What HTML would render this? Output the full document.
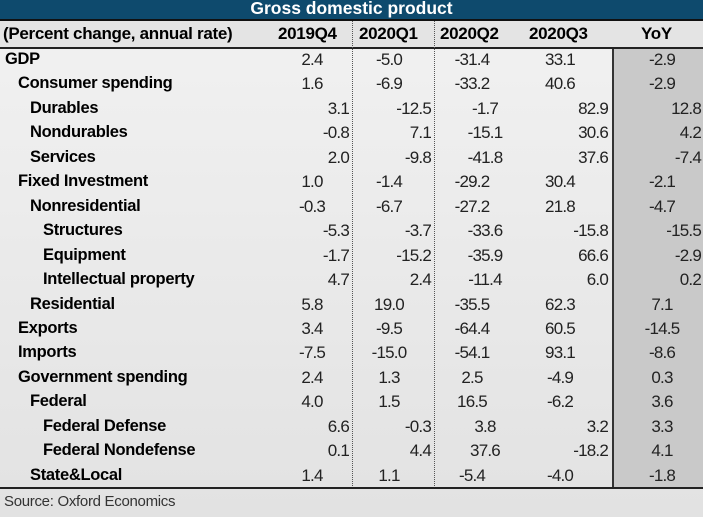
<!DOCTYPE html>
<html><head><meta charset="utf-8"><style>
body{margin:0;width:703px;height:517px;overflow:hidden;background:linear-gradient(#f2f2f2,#e2e2e2);font-family:"Liberation Sans",Arial,sans-serif;position:relative}
.abs{position:absolute;white-space:nowrap}
#title{left:0;top:0;width:703px;height:19px;background:#0e4a6d;color:#fff;font-weight:bold;font-size:17.5px;text-align:center;line-height:17px}
#hdr{left:0;top:19px;width:703px;height:26px;background:#e4e4e4;border-top:2px solid #111;border-bottom:2px solid #222}
.h{font-weight:bold;font-size:17px;top:24px;letter-spacing:-0.3px}
#yoy{left:612px;top:19px;width:91px;height:469px;background:#c9c9c9;border-left:2px solid #333}
.dot{top:21px;height:467px;border-left:1.5px dotted #555}
.lbl{font-weight:bold;font-size:16.5px;letter-spacing:-0.3px}
.v{font-size:17px;color:#222;letter-spacing:-0.8px}
#bot{left:0;top:487px;width:703px;border-top:2px solid #222}
#src{left:4px;top:493px;font-size:15px;color:#333;letter-spacing:-0.3px}
</style></head><body>
<div class="abs" id="yoy"></div>
<div class="abs" id="hdr"></div>
<div class="abs" id="title">Gross domestic product</div>
<div class="abs dot" style="left:352px"></div>
<div class="abs dot" style="left:434px"></div>
<div class="abs h" style="left:3px">(Percent change, annual rate)</div>
<div class="abs h" style="left:278px">2019Q4</div>
<div class="abs h" style="left:359px">2020Q1</div>
<div class="abs h" style="left:440px">2020Q2</div>
<div class="abs h" style="left:529px">2020Q3</div>
<div class="abs h" style="left:641px">YoY</div>
<div class="abs" id="bot"></div>
<div class="abs" id="src">Source: Oxford Economics</div>
<script>
const labels=["GDP","Consumer spending","Durables","Nondurables","Services","Fixed Investment","Nonresidential","Structures","Equipment","Intellectual property","Residential","Exports","Imports","Government spending","Federal","Federal Defense","Federal Nondefense","State&Local"];
const indents=[0,1,2,2,2,1,2,3,3,3,2,1,1,1,2,3,3,2];
const q4=["2.4","1.6","3.1","-0.8","2.0","1.0","-0.3","-5.3","-1.7","4.7","5.8","3.4","-7.5","2.4","4.0","6.6","0.1","1.4"];
const q1=["-5.0","-6.9","-12.5","7.1","-9.8","-1.4","-6.7","-3.7","-15.2","2.4","19.0","-9.5","-15.0","1.3","1.5","-0.3","4.4","1.1"];
const q2=["-31.4","-33.2","-1.7","-15.1","-41.8","-29.2","-27.2","-33.6","-35.9","-11.4","-35.5","-64.4","-54.1","2.5","16.5","3.8","37.6","-5.4"];
const q3=["33.1","40.6","82.9","30.6","37.6","30.4","21.8","-15.8","66.6","6.0","62.3","60.5","93.1","-4.9","-6.2","3.2","-18.2","-4.0"];
const yoy=["-2.9","-2.9","12.8","4.2","-7.4","-2.1","-4.7","-15.5","-2.9","0.2","7.1","-14.5","-8.6","0.3","3.6","3.3","4.1","-1.8"];
const style=["c","c","r","r","r","c","c","r","r","r","c","c","c","c","c","f","f","c"];
const top0=49,rowH=24.45;
function put(txt,x,y,cls,name,align){
  const d=document.createElement('div');
  d.className='abs '+cls;
  d.textContent=txt;
  d.style.top=y+'px';
  if(align==='r'){d.style.right=(703-x)+'px';}
  else if(align==='c'){d.style.left=(x-40)+'px';d.style.width='80px';d.style.textAlign='center';}
  else d.style.left=x+'px';
  
  
  document.body.appendChild(d);
}
labels.forEach((l,i)=>{
  const y=top0+i*rowH+1;
  const s=style[i];
  put(l,5+[0,13,25,38][indents[i]],y,'lbl','row-label','l');
  const rr=(s==='r'||s==='f');
  put(q4[i],rr?349:312,y,'v','value-2019q4',rr?'r':'c');
  put(q1[i],rr?431:389,y,'v','value-2020q1',rr?'r':'c');
  put(q2[i],rr?485:472,y,'v','value-2020q2','c');
  put(q3[i],rr?608:560,y,'v','value-2020q3',rr?'r':'c');
  put(yoy[i],s==='r'?701:662,y,'v','value-yoy',s==='r'?'r':'c');
});
</script>
</body></html>
